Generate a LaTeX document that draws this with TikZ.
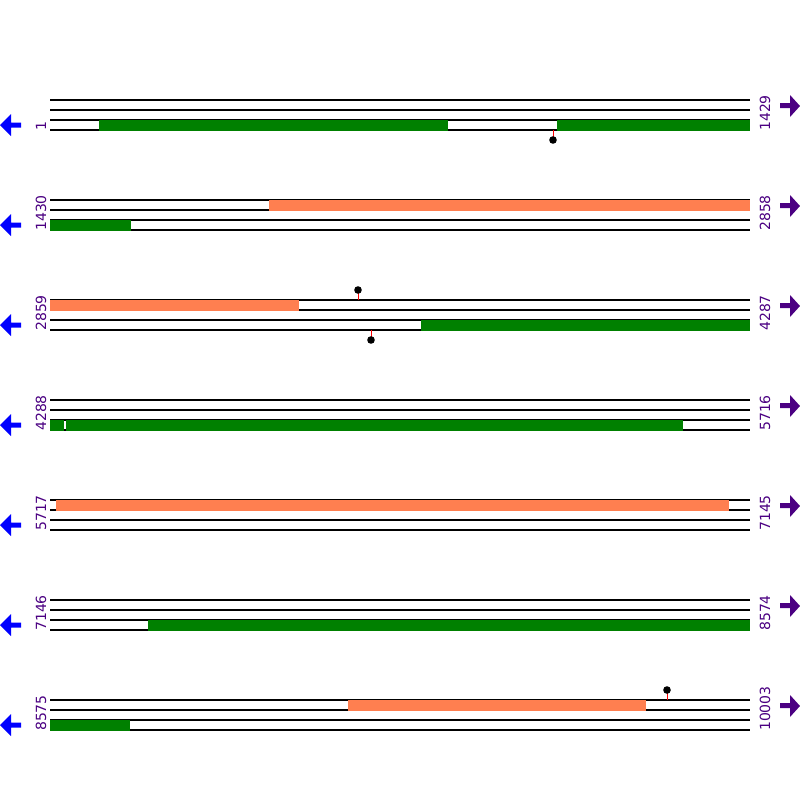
\documentclass[tikz,border=0pt]{standalone}
\usepackage{fontspec}
\setmainfont{DejaVu Sans}
\definecolor{ind}{HTML}{4B0082}
\definecolor{grn}{HTML}{008000}
\definecolor{cor}{HTML}{FF7F50}
\begin{document}
\begin{tikzpicture}[x=1pt,y=-1pt,
  seqline/.style={black,line width=1.1pt},
  gbar/.style={fill=grn,draw=none},
  obar/.style={fill=cor,draw=none},
  stem/.style={red,line width=1pt},
  lolli/.style={fill=black,draw=none},
  lab/.style={text=ind,font=\fontsize{14}{14}\selectfont,rotate=90,anchor=west,inner sep=0pt},
  larrow/.style={fill=blue,draw=none},
  rarrow/.style={fill=ind,draw=none}]
\useasboundingbox[fill=white] (0,0) rectangle (800,800);
\foreach \k in {0,...,6}{
  \pgfmathsetmacro{\b}{100*\k}
  \foreach \d in {100,110,120,130}{
    \draw[seqline] (50,\b+\d) -- (750,\b+\d);
  }
  \fill[larrow] (21,\b+122.5) -- (11,\b+122.5) -- (11,\b+114) -- (0,\b+125) -- (11,\b+136) -- (11,\b+127.5) -- (21,\b+127.5) -- cycle;
  \fill[rarrow] (780,\b+103) -- (790,\b+103) -- (790,\b+95) -- (800,\b+106) -- (790,\b+117) -- (790,\b+108) -- (780,\b+108) -- cycle;
}
% row 1
\fill[gbar] (99,120) rectangle (448,130.5);
\fill[gbar] (557,120) rectangle (750,130.5);
\draw[stem] (553,130) -- (553,137);
\fill[lolli] (553,140) circle (3.8);
% row 2
\fill[obar] (269,200) rectangle (750,210.5);
\fill[gbar] (50,220) rectangle (131,230.5);
% row 3
\fill[obar] (50,300) rectangle (299,310.5);
\draw[stem] (358,300) -- (358,293);
\fill[lolli] (358,290) circle (3.8);
\fill[gbar] (421,320) rectangle (750,330.5);
\draw[stem] (371,330) -- (371,337);
\fill[lolli] (371,340) circle (3.8);
% row 4
\fill[gbar] (50,420) rectangle (64,430.5);
\fill[gbar] (66,420) rectangle (683,430.5);
% row 5
\fill[obar] (56,500) rectangle (729,510.5);
% row 6
\fill[gbar] (148,620) rectangle (750,630.5);
% row 7
\fill[obar] (348,700) rectangle (646,710.5);
\draw[stem] (667,700) -- (667,693);
\fill[lolli] (667,690) circle (3.8);
\fill[gbar] (50,720) rectangle (130,730.5);
% labels
\node[lab] (l1) at (41,131) {1};
\node[lab] (r1) at (765,131) {1429};
\node[lab] (l2) at (41,231) {1430};
\node[lab] (r2) at (765,231) {2858};
\node[lab] (l3) at (41,331) {2859};
\node[lab] (r3) at (765,331) {4287};
\node[lab] (l4) at (41,431) {4288};
\node[lab] (r4) at (765,431) {5716};
\node[lab] (l5) at (41,531) {5717};
\node[lab] (r5) at (765,531) {7145};
\node[lab] (l6) at (41,631) {7146};
\node[lab] (r6) at (765,631) {8574};
\node[lab] (l7) at (41,731) {8575};
\node[lab] (r7) at (765,731) {10003};
\end{tikzpicture}
\end{document}
